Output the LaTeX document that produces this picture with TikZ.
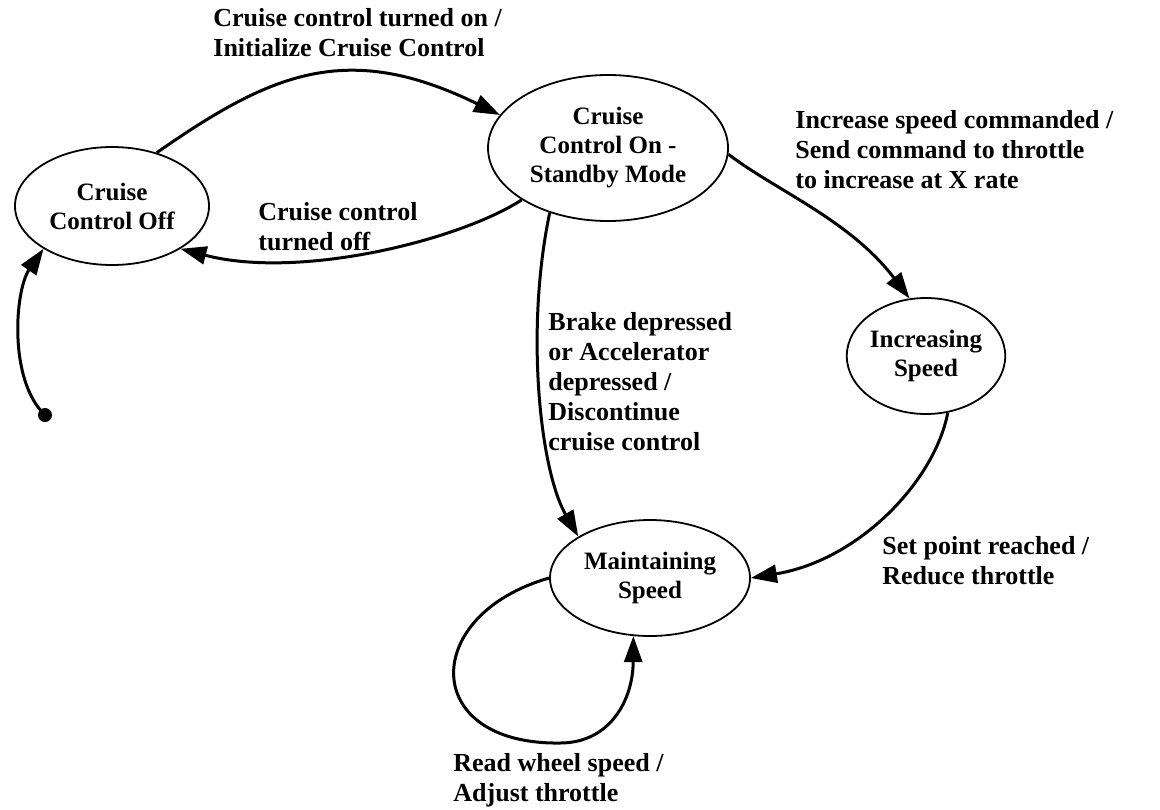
\documentclass[tikz,border=0pt]{standalone}
\usepackage{fontspec}
\setmainfont{Liberation Serif}
\usetikzlibrary{shapes.geometric,arrows.meta}
\begin{document}
\begin{tikzpicture}[x=0.5pt,y=-0.5pt,
  state/.style={draw, ellipse, line width=0.9pt, inner sep=0pt, align=center,
    font=\bfseries\fontsize{12.5}{14.5}\selectfont},
  lbl/.style={anchor=west, align=left, inner sep=0pt,
    font=\bfseries\fontsize{13}{15}\selectfont},
  trans/.style={line width=1.5pt, -{Triangle[length=13pt,width=9pt]}},
]
\useasboundingbox (0,0) rectangle (1160,809);

% states
\node[state, minimum width=97pt, minimum height=59pt] (off) at (112,206) {Cruise\\Control Off};
\node[state, minimum width=120pt, minimum height=73pt] (standby) at (608,148) {Cruise\\Control On -\\Standby Mode};
\node[state, minimum width=70pt, minimum height=58pt] (inc) at (926,356) {Increasing\\Speed};
\node[state, minimum width=100pt, minimum height=58pt] (maint) at (650,578) {Maintaining\\Speed};

% initial pseudo-state
\fill (45,415) circle[radius=3.5pt];
\coordinate (init) at (45,415);

% transitions
\draw[trans] (off.50) .. controls (271,73) and (347,40) .. (standby.163);
\draw[trans] (standby.211) .. controls (460,240) and (300,280) .. (off.328);
\draw[trans] (standby.-3) .. controls (775,190) and (850,220) .. (inc.106);
\draw[trans] (standby.228) .. controls (525,330) and (540,470) .. (maint.150);
\draw[trans] (inc.-69) .. controls (935,480) and (860,560) .. (maint.east);
\draw[trans] (maint.west) .. controls (420,615) and (420,745) .. (560,743)
  .. controls (610,743) and (633,700) .. (maint.254);
\draw[trans] (init) .. controls (8,380) and (15,290) .. (off.212);

% labels
\node[lbl] (l1) at (213,33) {Cruise control turned on /\\Initialize Cruise Control};
\node[lbl] (l2) at (258,227) {Cruise control\\turned off};
\node[lbl] (l3) at (795,150) {Increase speed commanded /\\Send command to throttle\\to increase at X rate};
\node[lbl] (l4) at (548,382) {Brake depressed\\or Accelerator\\depressed /\\Discontinue\\cruise control};
\node[lbl] (l5) at (882,561) {Set point reached /\\Reduce throttle};
\node[lbl] (l6) at (453,780) {Read wheel speed /\\Adjust throttle};
\end{tikzpicture}
\end{document}
